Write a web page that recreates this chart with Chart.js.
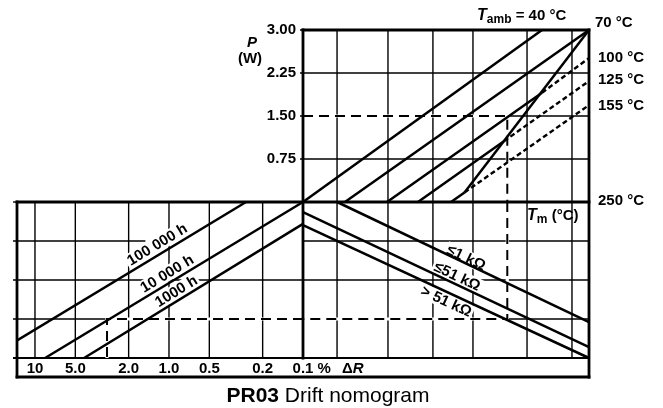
<!DOCTYPE html>
<html>
<head>
<meta charset="utf-8">
<title>PR03 Drift nomogram</title>
<script src="https://cdn.jsdelivr.net/npm/chart.js@4.4.0/dist/chart.umd.min.js"></script>
<style>
  body { margin: 0; background: #fff; }
  canvas { display: block; }
</style>
</head>
<body>
<canvas id="nomogram" width="663" height="408"></canvas>
<script>
// upper panel: P (W) against hot-spot temperature Tm (°C)
const powerTicks = [3, 2.25, 1.5, 0.75];
const powerLabels = ['3.00', '2.25', '1.50', '0.75'];
const tempGrid = [65, 102.4, 135.4, 164.8, 204.5, 237.5];

// lower panel: drift (% ΔR) on the left, rows shared by both halves
const driftTicks = [10, 5, 2, 1, 0.5, 0.2, 0.1];
const driftLabels = ['10', '5.0', '2.0', '1.0', '0.5', '0.2', '0.1'];
const rowGrid = [1, 2, 3];

// Tamb lines [Tm, P]; the part above the limit line is dashed
const tamb40 = [[40, 0], [215.5, 3]];
const tamb70 = [[70.8, 0], [250, 3]];
const tamb100 = [[101.7, 0], [215.5, 1.905]];
const tamb100Over = [[215.5, 1.905], [250, 2.51]];
const tamb125 = [[124.4, 0], [187.5, 1.06]];
const tamb125Over = [[187.5, 1.06], [250, 2.11]];
const tamb155 = [[148.7, 0], [158.6, 0.166]];
const tamb155Over = [[158.6, 0.166], [250, 1.69]];
const limitLine = [[158.6, 0.166], [250, 3]];

// operating time lines [ΔR %, row]
const hours100000 = [[0.266, 0], [13.6, 3.55]];
const hours10000 = [[0.1, 0], [8.4, 4]];
const hours1000 = [[0.1, 0.56], [4.3, 4]];

// resistance range lines [Tm, row]
const res1k = [[65, 0], [250, 3.08]];
const res51k = [[40, 0.26], [250, 3.72]];
const resOver51k = [[40, 0.59], [250, 4]];

// worked example (dashed)
const examplePower = [[40, 1.5], [190, 1.5], [190, 0]];
const exampleRow = [[190, 0], [190, 3], [40, 3]];
const exampleDrift = [[0.1, 3], [2.9, 3], [2.9, 4]];

const FONT = '"Liberation Sans", Arial, Helvetica, sans-serif';
function font(size, weight = 'bold', style = 'normal') {
  return style + ' ' + weight + ' ' + size + 'px ' + FONT;
}

function toPoints(pairs) {
  return pairs.map(([a, b]) => ({ x: a, y: b }));
}

function line(data, xAxis, yAxis, dashed) {
  return {
    data: toPoints(data),
    xAxisID: xAxis,
    yAxisID: yAxis,
    showLine: true,
    pointRadius: 0,
    borderColor: '#000',
    borderWidth: dashed ? 2.4 : 2.5,
    borderDash: dashed ? [5, 3] : [],
    tension: 0
  };
}

function exampleLine(data, xAxis, yAxis) {
  return Object.assign(line(data, xAxis, yAxis), { borderWidth: 2, borderDash: [10, 6] });
}

// white strip under the dashed example so the grid doesn't show in the gaps
function underlay(data, xAxis, yAxis) {
  return Object.assign(line(data, xAxis, yAxis), { borderColor: '#fff', borderWidth: 3.2, order: 10 });
}

const lineLabels = [
  { text: '100 000 h', line: hours100000, xAxis: 'xR', yAxis: 'yB', at: [1.22, 1.10] },
  { text: '10 000 h', line: hours10000, xAxis: 'xR', yAxis: 'yB', at: [1.03, 1.85] },
  { text: '1000 h', line: hours1000, xAxis: 'xR', yAxis: 'yB', at: [0.88, 2.3] },
  { text: '\u22641 k\u03A9', line: res1k, xAxis: 'x', yAxis: 'yB', at: [159.7, 1.44] },
  { text: '\u226451 k\u03A9', line: res51k, xAxis: 'x', yAxis: 'yB', at: [153.1, 1.92] },
  { text: '> 51 k\u03A9', line: resOver51k, xAxis: 'x', yAxis: 'yB', at: [145, 2.56] }
];

const endLabels = [
  { text: '70 \u00B0C', at: [250, 3], dy: -7 },
  { text: '100 \u00B0C', at: tamb100Over[1], dy: 0 },
  { text: '125 \u00B0C', at: tamb125Over[1], dy: -1 },
  { text: '155 \u00B0C', at: tamb155Over[1], dy: 1 },
  { text: '250 \u00B0C', at: [250, 0], dy: -1 }
];

function seg(ctx, x1, y1, x2, y2) {
  ctx.beginPath();
  ctx.moveTo(x1, y1);
  ctx.lineTo(x2, y2);
  ctx.stroke();
}

// text pieces drawn one after another: [text, font, baseline shift]
function runs(ctx, x, y, parts) {
  ctx.textAlign = 'left';
  parts.forEach(([t, f, dy]) => {
    ctx.font = f;
    ctx.fillText(t, x, y + (dy || 0));
    x += ctx.measureText(t).width;
  });
  return x;
}

function labelGeometry(chart, lab) {
  const sx = chart.scales[lab.xAxis], sy = chart.scales[lab.yAxis];
  const a = lab.line[0], b = lab.line[1];
  let ang = Math.atan2(sy.getPixelForValue(b[1]) - sy.getPixelForValue(a[1]),
                       sx.getPixelForValue(b[0]) - sx.getPixelForValue(a[0]));
  if (ang > Math.PI / 2) ang -= Math.PI;
  if (ang < -Math.PI / 2) ang += Math.PI;
  return { px: sx.getPixelForValue(lab.at[0]), py: sy.getPixelForValue(lab.at[1]), ang: ang };
}

const nomogramFrame = {
  id: 'nomogramFrame',
  beforeDatasetsDraw(chart) {
    const { ctx, chartArea: area } = chart;
    const { x, xR, y, yB } = chart.scales;
    ctx.save();
    ctx.strokeStyle = '#000';
    ctx.lineWidth = 1.4;

    // upper panel rows (with small ticks left of the P axis)
    powerTicks.forEach(p => seg(ctx, x.getPixelForValue(40) - 3, y.getPixelForValue(p), area.right, y.getPixelForValue(p)));
    // temperature verticals run through both panels
    tempGrid.forEach(t => seg(ctx, x.getPixelForValue(t), y.getPixelForValue(3), x.getPixelForValue(t), yB.getPixelForValue(4)));
    // drift verticals
    driftTicks.slice(0, -1).forEach(d => seg(ctx, xR.getPixelForValue(d), yB.getPixelForValue(0), xR.getPixelForValue(d), yB.getPixelForValue(4)));
    // lower rows; on the drift side the first row stops at the 100 000 h label
    rowGrid.forEach(r => {
      const py = yB.getPixelForValue(r);
      const leftEnd = r === 1 ? xR.getPixelForValue(1.5) : x.getPixelForValue(40);
      seg(ctx, area.left - 4, py, leftEnd, py);
      seg(ctx, x.getPixelForValue(40), py, area.right, py);
    });
    seg(ctx, area.left - 4, yB.getPixelForValue(0), area.left, yB.getPixelForValue(0));
    ctx.lineWidth = 1.8;
    seg(ctx, area.left - 4, yB.getPixelForValue(4), area.right, yB.getPixelForValue(4));

    // white boxes behind the sloping labels
    ctx.font = font(15);
    ctx.fillStyle = '#fff';
    lineLabels.forEach(lab => {
      const g = labelGeometry(chart, lab);
      const w = ctx.measureText(lab.text).width;
      ctx.save();
      ctx.translate(g.px, g.py);
      ctx.rotate(g.ang);
      ctx.fillRect(-w / 2 - 2, -8, w + 4, 15);
      ctx.restore();
    });
    ctx.restore();
  },
  afterDatasetsDraw(chart) {
    const { ctx, chartArea: area } = chart;
    const { x, xR, y, yB } = chart.scales;
    const axisX = x.getPixelForValue(40);
    ctx.save();
    ctx.strokeStyle = '#000';
    ctx.fillStyle = '#000';
    ctx.lineWidth = 2.8;
    ctx.lineCap = 'square';
    seg(ctx, axisX, y.getPixelForValue(3), axisX, yB.getPixelForValue(4));
    seg(ctx, axisX, y.getPixelForValue(3), area.right, y.getPixelForValue(3));
    seg(ctx, area.right, y.getPixelForValue(3), area.right, area.bottom);
    seg(ctx, area.left, y.getPixelForValue(0), area.right, y.getPixelForValue(0));
    seg(ctx, area.left, y.getPixelForValue(0), area.left, area.bottom);
    seg(ctx, area.left, area.bottom, area.right, area.bottom);

    // P axis
    ctx.textBaseline = 'middle';
    ctx.textAlign = 'right';
    ctx.font = font(15);
    powerTicks.forEach((p, i) => ctx.fillText(powerLabels[i], axisX - 7, y.getPixelForValue(p)));
    ctx.textAlign = 'center';
    ctx.font = font(15, 'bold', 'italic');
    ctx.fillText('P', axisX - 51, 43);
    ctx.font = font(15);
    ctx.fillText('(W)', axisX - 53, 59);

    // Tamb and temperature labels
    ctx.textBaseline = 'alphabetic';
    runs(ctx, x.getPixelForValue(tamb40[1][0]) - 65, y.getPixelForValue(3) - 10, [
      ['T', font(16, 'bold', 'italic')], ['amb', font(12), 3], [' = 40 \u00B0C', font(15)]
    ]);
    ctx.textBaseline = 'middle';
    ctx.font = font(15);
    ctx.textAlign = 'left';
    endLabels.forEach((e, i) => {
      ctx.fillText(e.text, x.getPixelForValue(e.at[0]) + (i === 0 ? 6 : 9), y.getPixelForValue(e.at[1]) + e.dy);
    });
    ctx.textBaseline = 'alphabetic';
    runs(ctx, x.getPixelForValue(204.5), y.getPixelForValue(0) + 18, [
      ['T', font(16, 'bold', 'italic')], ['m', font(12), 3], [' (\u00B0C)', font(15)]
    ]);

    // drift axis labels
    const labelY = (yB.getPixelForValue(4) + area.bottom) / 2 + 1;
    ctx.textBaseline = 'middle';
    ctx.textAlign = 'center';
    ctx.font = font(15);
    driftTicks.forEach((d, i) => ctx.fillText(driftLabels[i], xR.getPixelForValue(d), labelY));
    const pctStart = xR.getPixelForValue(0.1) + ctx.measureText('0.1').width / 2;
    const afterPct = runs(ctx, pctStart, labelY, [[' %', font(15)]]);
    runs(ctx, afterPct + 11, labelY, [['\u0394', font(15)], ['R', font(15, 'bold', 'italic')]]);

    // sloping labels
    ctx.textAlign = 'center';
    ctx.font = font(15);
    lineLabels.forEach(lab => {
      const g = labelGeometry(chart, lab);
      ctx.save();
      ctx.translate(g.px, g.py);
      ctx.rotate(g.ang);
      ctx.fillText(lab.text, 0, 0);
      ctx.restore();
    });

    // caption
    ctx.textBaseline = 'alphabetic';
    ctx.font = font(21);
    const w1 = ctx.measureText('PR03').width;
    ctx.font = font(21, 'normal');
    const w2 = ctx.measureText(' Drift nomogram').width;
    runs(ctx, 328 - (w1 + w2) / 2, 402, [['PR03', font(21)], [' Drift nomogram', font(21, 'normal')]]);
    ctx.restore();
  }
};

const datasets = [
  line(tamb40, 'x', 'y'),
  line(tamb70, 'x', 'y'),
  line(tamb100, 'x', 'y'),
  line(tamb100Over, 'x', 'y', true),
  line(tamb125, 'x', 'y'),
  line(tamb125Over, 'x', 'y', true),
  line(tamb155, 'x', 'y'),
  line(tamb155Over, 'x', 'y', true),
  line(limitLine, 'x', 'y'),
  line(hours100000, 'xR', 'yB'),
  line(hours10000, 'xR', 'yB'),
  line(hours1000, 'xR', 'yB'),
  line(res1k, 'x', 'yB'),
  line(res51k, 'x', 'yB'),
  line(resOver51k, 'x', 'yB'),
  exampleLine(examplePower, 'x', 'y'),
  exampleLine(exampleRow, 'x', 'yB'),
  exampleLine(exampleDrift, 'xR', 'yB'),
  underlay(examplePower, 'x', 'y'),
  underlay(exampleRow, 'x', 'yB'),
  underlay(exampleDrift, 'xR', 'yB')
];

new Chart(document.getElementById('nomogram'), {
  type: 'scatter',
  data: { datasets: datasets },
  options: {
    responsive: false,
    animation: false,
    layout: { padding: { left: 17, right: 74, top: 30, bottom: 31 } },
    plugins: { legend: { display: false }, tooltip: { enabled: false } },
    scales: {
      x: { type: 'linear', min: -170, max: 250, bounds: 'data', display: false },
      xR: { type: 'logarithmic', axis: 'x', reverse: true, min: 0.000734, max: 13.62, display: false },
      y: { type: 'linear', min: -3.0523, max: 3, bounds: 'data', display: false },
      yB: { type: 'linear', axis: 'y', reverse: true, min: -4.4103, max: 4.4872, bounds: 'data', display: false }
    }
  },
  plugins: [nomogramFrame]
});
</script>
</body>
</html>
